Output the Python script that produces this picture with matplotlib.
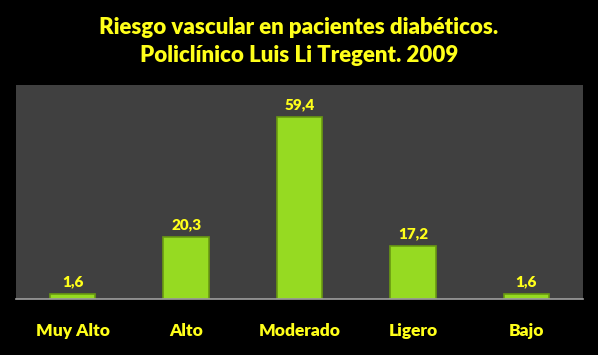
import matplotlib.pyplot as plt

categories = ['Muy Alto', 'Alto', 'Moderado', 'Ligero', 'Bajo']
values = [1.6, 20.3, 59.4, 17.2, 1.6]
labels = ['1,6', '20,3', '59,4', '17,2', '1,6']

yellow = '#FFFF1A'
plt.rcParams['font.family'] = ['Lato', 'DejaVu Sans']

fig = plt.figure(figsize=(5.98, 3.55), dpi=100, facecolor='black')
ax = fig.add_axes([16/598, 1-299/355, (583-16)/598, (299-85)/355])
ax.set_facecolor('#404040')

x = range(len(categories))
bars = ax.bar(x, values, width=0.4, color='#96DA22', edgecolor='#6A9A12', linewidth=1.2)
for b, lab in zip(bars, labels):
    ax.text(b.get_x() + b.get_width()/2, b.get_height() + 2.0, lab, ha='center', va='bottom',
            color=yellow, fontsize=11, fontweight='heavy')

ax.set_xlim(-0.5, len(categories) - 0.5)
ax.set_ylim(0, 70)
ax.set_yticks([])
ax.set_xticks(list(x))
ax.set_xticklabels(categories, color=yellow, fontsize=12.5, fontweight='heavy')
ax.tick_params(axis='x', length=0, pad=17)
for s in ['top', 'right', 'left']:
    ax.spines[s].set_visible(False)
ax.spines['bottom'].set_color('#A0A0A0')
ax.spines['bottom'].set_linewidth(1.2)

fig.text(0.5, 1-28/355, 'Riesgo vascular en pacientes diabéticos.', ha='center', va='center',
         color=yellow, fontsize=16, fontweight='heavy')
fig.text(0.5, 1-55/355, 'Policlínico Luis Li Tregent. 2009', ha='center', va='center',
         color=yellow, fontsize=16, fontweight='heavy')

fig.savefig('out.png', dpi=100, facecolor='black')
